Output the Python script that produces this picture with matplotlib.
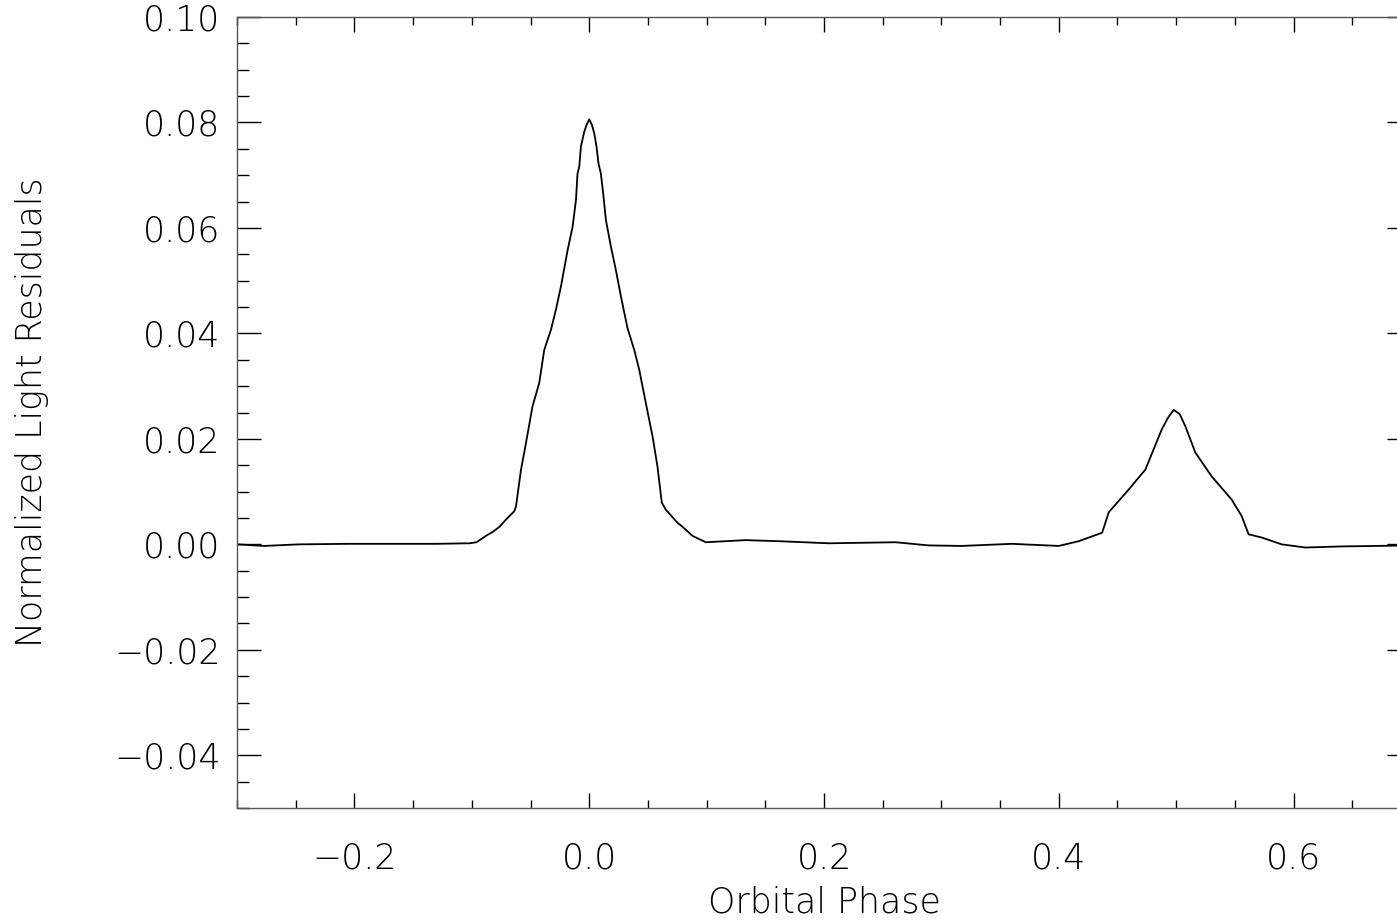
import matplotlib

matplotlib.use("Agg")
import matplotlib.pyplot as plt
from matplotlib.ticker import MultipleLocator, FuncFormatter

# residual light curve (orbital phase, normalized residual)
phase = [
    -0.300, -0.277, -0.247, -0.204, -0.160, -0.130, -0.102, -0.096, -0.088,
    -0.082, -0.0766, -0.0709, -0.0638, -0.0624, -0.0581, -0.0539, -0.0483,
    -0.0426, -0.0383, -0.0326, -0.0284, -0.0241, -0.0184, -0.0142, -0.0113,
    -0.0100, -0.0085, -0.0071, -0.0043, -0.0023, 0.0, 0.0023, 0.0043, 0.0062,
    0.0079, 0.0099, 0.0119, 0.0142, 0.0185, 0.0227, 0.0270, 0.0326, 0.0383,
    0.0426, 0.0482, 0.0539, 0.0581, 0.0618, 0.0652, 0.0751, 0.0791, 0.0880,
    0.0993, 0.1334, 0.1617, 0.2040, 0.2610, 0.2890, 0.3174, 0.3600, 0.4000,
    0.4170, 0.4369, 0.4426, 0.4596, 0.4738, 0.4877, 0.4930, 0.4979, 0.5030,
    0.5078, 0.5163, 0.5302, 0.5472, 0.5557, 0.5617, 0.5728, 0.5898, 0.6100,
    0.6400, 0.6700, 0.7000,
]
residual = [
    0.0000, -0.0003, 0.0000, 0.0001, 0.0001, 0.0001, 0.0002, 0.0004, 0.0016,
    0.0024, 0.0033, 0.0047, 0.0063, 0.0072, 0.0142, 0.0192, 0.0262,
    0.0306, 0.0369, 0.0407, 0.0445, 0.0489, 0.0558, 0.0602, 0.0653,
    0.0703, 0.0716, 0.0754, 0.0782, 0.0795, 0.0806, 0.0795, 0.0779, 0.0754,
    0.0722, 0.0703, 0.0665, 0.0615, 0.0564, 0.0520, 0.0470, 0.0410, 0.0369,
    0.0331, 0.0268, 0.0205, 0.0148, 0.0079, 0.0066, 0.0041, 0.0034, 0.0016,
    0.0004, 0.0008, 0.0006, 0.0002, 0.0004, -0.0002, -0.0003, 0.0001, -0.0003,
    0.0006, 0.0022, 0.0061, 0.0104, 0.0142, 0.0218, 0.0240, 0.0255, 0.0247,
    0.0224, 0.0174, 0.0129, 0.0085, 0.0054, 0.0019, 0.0013, 0.0000, -0.0006,
    -0.0004, -0.0003, -0.0002,
]


def _fmt(decimals):
    def _f(value, _pos):
        text = f"{value:.{decimals}f}"
        if text.startswith("-"):
            text = "\u2212" + text[1:]
        return text
    return FuncFormatter(_f)


plt.rcParams["font.family"] = ["DejaVu Sans"]
plt.rcParams["font.weight"] = "light"
plt.rcParams["axes.labelweight"] = "light"

fig = plt.figure(figsize=(13.97, 9.22), dpi=100)
# the right edge of the frame runs just past the image border
ax = fig.add_axes([0.1697, 0.1236, 0.8403, 0.858])

ax.plot(phase, residual, color="black", linewidth=1.3)

ax.set_xlim(-0.3, 0.7)
ax.set_ylim(-0.05, 0.10)
ax.xaxis.set_major_locator(MultipleLocator(0.2))
ax.xaxis.set_minor_locator(MultipleLocator(0.05))
ax.yaxis.set_major_locator(MultipleLocator(0.02))
ax.yaxis.set_minor_locator(MultipleLocator(0.005))
ax.xaxis.set_major_formatter(_fmt(1))
ax.yaxis.set_major_formatter(_fmt(2))

ax.tick_params(axis="x", which="both", direction="in", top=True, bottom=True,
               labelsize=25, pad=24, width=1.0, color="black")
ax.tick_params(axis="x", which="major", length=10.8)
ax.tick_params(axis="x", which="minor", length=5.8)
ax.tick_params(axis="y", which="both", direction="in", left=True, right=True,
               labelsize=25, pad=12, width=1.0, color="black")
ax.tick_params(axis="y", which="major", length=17.3)
ax.tick_params(axis="y", which="minor", length=8.6)

for spine in ax.spines.values():
    spine.set_color("#555555")
    spine.set_linewidth(1.0)

ax.set_xlabel("Orbital Phase", fontsize=25, fontweight="light", va="center")
ax.xaxis.set_label_coords(0.5, -0.12)
ax.set_ylabel("Normalized Light Residuals", fontsize=25, fontweight="light",
              va="center")
ax.yaxis.set_label_coords(-0.1746, 0.5)

fig.savefig("out.png", dpi=100)
